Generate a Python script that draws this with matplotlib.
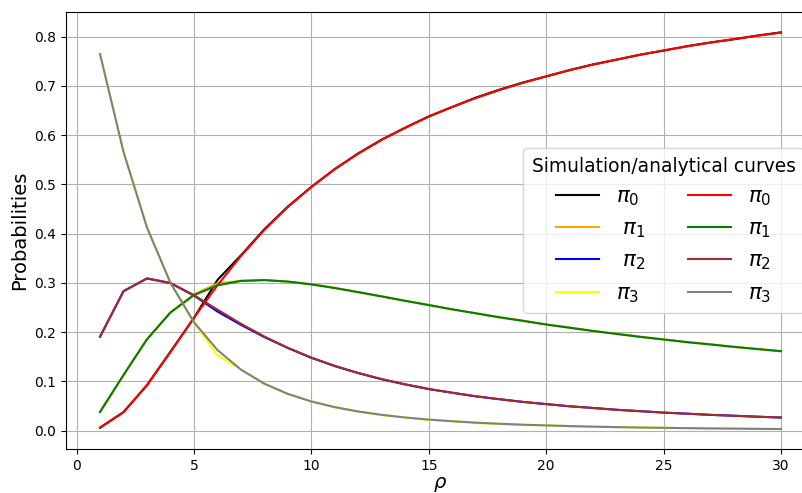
import matplotlib
matplotlib.use("Agg")
import matplotlib.pyplot as plt

rho = list(range(1, 31))

# analytical stationary probabilities
pi0_ana = [0.0064, 0.0377, 0.0928, 0.1600, 0.2294, 0.2951, 0.3547, 0.4076, 0.4542, 0.4950,
           0.5309, 0.5625, 0.5904, 0.6152, 0.6374, 0.6573, 0.6751, 0.6913, 0.7060, 0.7194,
           0.7317, 0.7430, 0.7533, 0.7629, 0.7718, 0.7800, 0.7877, 0.7949, 0.8016, 0.8079]
pi1_ana = [0.0382, 0.1132, 0.1856, 0.2400, 0.2752, 0.2951, 0.3040, 0.3057, 0.3028, 0.2970,
           0.2896, 0.2813, 0.2725, 0.2637, 0.2550, 0.2465, 0.2383, 0.2304, 0.2230, 0.2158,
           0.2091, 0.2026, 0.1965, 0.1907, 0.1852, 0.1800, 0.1751, 0.1703, 0.1658, 0.1616]
pi2_ana = [0.1911, 0.2830, 0.3093, 0.3000, 0.2752, 0.2459, 0.2172, 0.1911, 0.1682, 0.1485,
           0.1316, 0.1172, 0.1048, 0.0942, 0.0850, 0.0770, 0.0701, 0.0640, 0.0587, 0.0540,
           0.0498, 0.0461, 0.0427, 0.0397, 0.0370, 0.0346, 0.0324, 0.0304, 0.0286, 0.0269]
pi3_ana = [0.7643, 0.5660, 0.4124, 0.3000, 0.2202, 0.1639, 0.1241, 0.0955, 0.0748, 0.0594,
           0.0479, 0.0391, 0.0323, 0.0269, 0.0227, 0.0193, 0.0165, 0.0142, 0.0124, 0.0108,
           0.0095, 0.0084, 0.0074, 0.0066, 0.0059, 0.0053, 0.0048, 0.0043, 0.0039, 0.0036]

# simulation estimates
pi0_sim = [0.0062, 0.0379, 0.0925, 0.1605, 0.2290, 0.3060, 0.3560, 0.4090, 0.4550, 0.4948,
           0.5312, 0.5630, 0.5910, 0.6150, 0.6380, 0.6570, 0.6760, 0.6920, 0.7065, 0.7190,
           0.7320, 0.7435, 0.7530, 0.7632, 0.7715, 0.7805, 0.7880, 0.7945, 0.8020, 0.8085]
pi1_sim = [0.0385, 0.1130, 0.1862, 0.2405, 0.2770, 0.2990, 0.3045, 0.3060, 0.3025, 0.2975,
           0.2900, 0.2810, 0.2730, 0.2635, 0.2555, 0.2460, 0.2388, 0.2300, 0.2238, 0.2150,
           0.2095, 0.2020, 0.1968, 0.1905, 0.1855, 0.1795, 0.1755, 0.1700, 0.1660, 0.1612]
pi2_sim = [0.1908, 0.2835, 0.3090, 0.2995, 0.2745, 0.2420, 0.2150, 0.1900, 0.1680, 0.1480,
           0.1312, 0.1170, 0.1045, 0.0940, 0.0845, 0.0772, 0.0698, 0.0642, 0.0585, 0.0542,
           0.0496, 0.0463, 0.0425, 0.0398, 0.0368, 0.0347, 0.0322, 0.0305, 0.0285, 0.0268]
pi3_sim = [0.7645, 0.5656, 0.4123, 0.2995, 0.2195, 0.1530, 0.1245, 0.0950, 0.0745, 0.0597,
           0.0476, 0.0390, 0.0315, 0.0270, 0.0220, 0.0198, 0.0154, 0.0138, 0.0112, 0.0118,
           0.0089, 0.0082, 0.0077, 0.0065, 0.0062, 0.0053, 0.0043, 0.0050, 0.0035, 0.0035]

sim_colors = ["black", "orange", "blue", "yellow"]
ana_colors = ["red", "green", "brown", "gray"]
sim_labels = ["$\\pi_0$", " $\\pi_1$", " $\\pi_2$", "$\\pi_3$"]
ana_labels = ["$\\pi_0$", "$\\pi_1$", "$\\pi_2$", "$\\pi_3$"]

fig = plt.figure(figsize=(8.03, 4.93), dpi=100)
# axes run past the right edge of the picture, as in the reference crop
ax = fig.add_axes([66 / 803, 44 / 493, 749 / 803, 436.6 / 493])

for ys, c, lab in zip([pi0_sim, pi1_sim, pi2_sim, pi3_sim], sim_colors, sim_labels):
    ax.plot(rho, ys, color=c, lw=1.5, label=lab)
for ys, c, lab in zip([pi0_ana, pi1_ana, pi2_ana, pi3_ana], ana_colors, ana_labels):
    ax.plot(rho, ys, color=c, lw=1.5, label=lab)

ax.set_xlim(-0.45, 31.45)
ax.set_ylim(-0.037, 0.849)
ax.set_xticks([0, 5, 10, 15, 20, 25, 30])
ax.set_yticks([0.0, 0.1, 0.2, 0.3, 0.4, 0.5, 0.6, 0.7, 0.8])
ax.tick_params(labelsize=10)
ax.grid(True)
ax.set_xlabel("$\\rho$", fontsize=14, labelpad=2)
ax.set_ylabel("Probabilities", fontsize=14)

ax.legend(loc="center right", ncol=2, fontsize=15.4,
          title="Simulation/analytical curves", title_fontsize=13.4)

fig.savefig("out.png", dpi=100)
